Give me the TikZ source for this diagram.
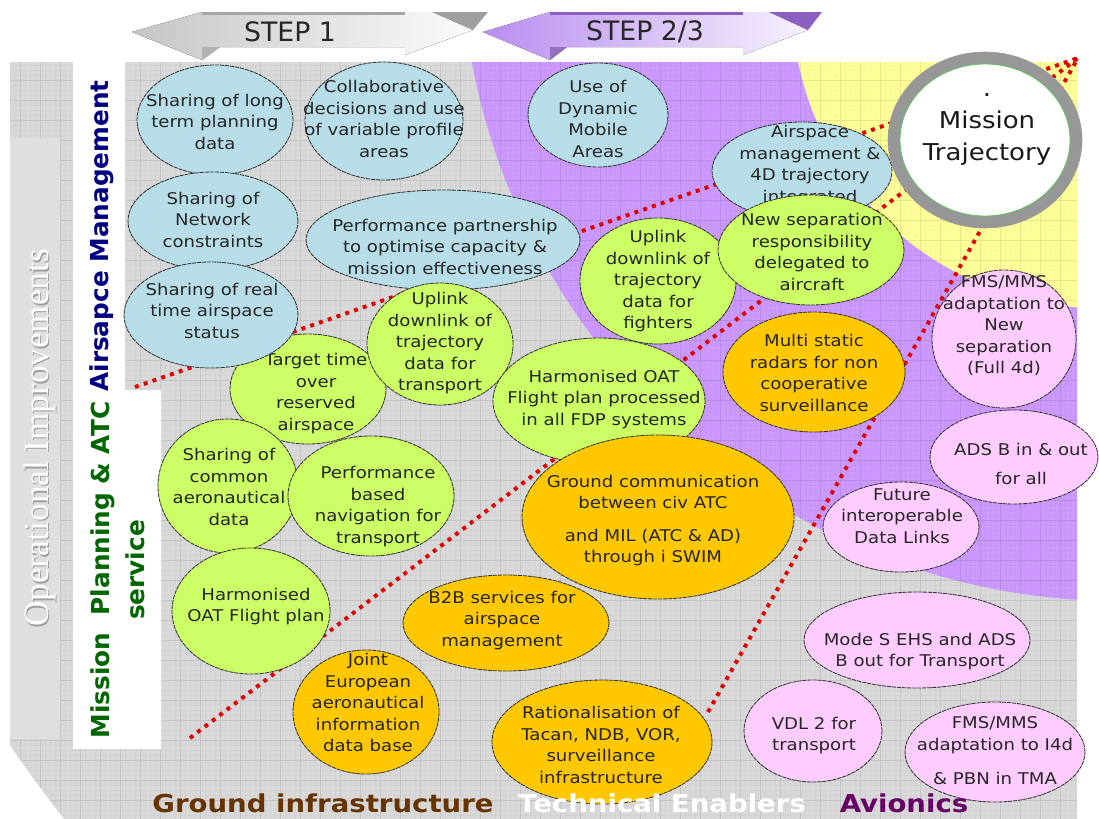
\documentclass[tikz,border=0pt]{standalone}
\usepackage{fontspec}
\usetikzlibrary{shapes.geometric}
\newfontfamily\bubblefont{DejaVu Sans}[FakeStretch=1.12]
\newfontfamily\sidefont{DejaVu Sans}
\newfontfamily\oldserif{Liberation Serif}
\definecolor{bgGrey}{HTML}{D9D9D9}
\definecolor{bgPurple}{HTML}{CC99FF}
\definecolor{bgYellow}{HTML}{FFFF99}
\definecolor{panelGrey}{HTML}{DFDFDF}
\definecolor{bubBlue}{HTML}{B7DEE8}
\definecolor{bubGreen}{HTML}{CCFF66}
\definecolor{bubGold}{HTML}{FFC800}
\definecolor{bubPink}{HTML}{FFCCFF}
\definecolor{dotRed}{HTML}{E00000}
\definecolor{amBlue}{HTML}{000080}
\definecolor{mpGreen}{HTML}{006600}
\definecolor{giBrown}{HTML}{663300}
\definecolor{avPurple}{HTML}{660066}
\definecolor{ringGrey}{HTML}{979797}
\definecolor{stepPurple}{HTML}{B98EF0}
\definecolor{stepPurpleDark}{HTML}{8B5FBF}
\tikzset{
  bubble/.style={ellipse, draw=black!80, line width=.6pt, dash pattern=on 3pt off .6pt,
    inner sep=0pt, outer sep=0pt},
  ewid/.style={minimum width=#1*0.025cm},
  ehgt/.style={minimum height=#1*0.025cm},
  btext/.style={align=center, font=\bubblefont\fontsize{11.5}{15.3}\selectfont, text=black!85,
    inner sep=0pt, yshift=-2.8pt, execute at begin node=\strut, execute at end node=\strut},
  ray/.style={draw=dotRed, line width=2.8pt, dash pattern=on 2.8pt off 3.8pt},
  sidelabel/.style={rotate=90, inner sep=0pt, font=\sidefont\bfseries\fontsize{17.6}{25}\selectfont},
  bottomlabel/.style={anchor=base, inner sep=0pt, font=\bubblefont\bfseries\fontsize{17.5}{20}\selectfont},
  steptext/.style={inner sep=0pt, font=\sidefont\fontsize{19}{22}\selectfont, text=black!85},
}
\begin{document}
\begin{tikzpicture}[x=0.025cm,y=-0.025cm]
\useasboundingbox (0,0) rectangle (1099,818);
\fill[white] (0,0) rectangle (1099,818);

% ---- background bands: grey outer, purple middle, yellow inner ----
\begin{scope}
  \clip (10,62) rectangle (1077,818);
  \clip (1100,0) circle [radius=33cm];
  \fill[bgGrey] (0,0) rectangle (1100,820);
  \fill[bgPurple] (1121,-59) circle [radius=16.5cm];
  \fill[bgYellow] (1100,0) circle [radius=7.7cm];
  \draw[black, opacity=.022, line width=.3pt] (0,820) grid[step=0.125cm] (1100,0);
  \draw[black, opacity=.07, line width=.5pt] (0,820) grid[step=0.5cm] (1100,0);
\end{scope}

% ---- left panels ----
\fill[panelGrey] (10,138) rectangle (60,739);
\fill[white] (73,62) -- (125,62) -- (125,390) -- (161,390) -- (161,749) -- (73,749) -- cycle;

\node[rotate=90, inner sep=0pt, font=\oldserif\fontsize{25}{30}\selectfont, text=gray!75] (oiShadow) at (41.5,439.5) {Operational Improvements};
\node[rotate=90, inner sep=0pt, font=\oldserif\fontsize{25}{30}\selectfont, text=white] (oiLabel) at (40,438) {Operational Improvements};
\node[sidelabel, text=amBlue] (amLabel) at (102,236) {Airsapce Management};
\node[sidelabel, text=mpGreen, align=center] (mpLabel) at (117.5,570) {Mission\ \ Planning \& ATC\\service};

% ---- STEP arrows ----
\fill[left color=gray!45, right color=gray!3] (132,32) -- (202,12) -- (432,12) -- (473,30) -- (405,55) -- (405,47) -- (220,47) -- (202,60) -- cycle;
\fill[gray!70] (202,12) rectangle (405,15);
\fill[gray!75] (432,12) -- (488,12) -- (473,30) -- cycle;
\fill[gray!60] (202,47) -- (220,47) -- (202,60) -- cycle;
\node[steptext] (step1) at (290,32) {STEP 1};
\fill[left color=stepPurple, right color=stepPurple!12] (483,32) -- (550,12) -- (769,12) -- (808,30) -- (743,55) -- (743,47) -- (567,47) -- (550,60) -- cycle;
\fill[stepPurpleDark] (550,12) rectangle (743,15);
\fill[stepPurpleDark] (769,12) -- (822,12) -- (808,30) -- cycle;
\fill[stepPurple!80!black] (550,47) -- (567,47) -- (550,60) -- cycle;
\node[steptext] (step2) at (645,32) {STEP 2/3};

% ---- dotted rays converging on the trajectory ----
\coordinate (apex) at (1078,58);
\coordinate (amStart) at (135,387);
\coordinate (mpStart) at (190,738);
\coordinate (giStart) at (708,712);
\draw[ray] (amStart) -- (apex);
\draw[ray] (mpStart) -- (apex);
\draw[ray] (giStart) -- (apex);

% ---- bubbles ----
\node[bubble, fill=bubBlue, ewid=156, ehgt=110] (lt1) at (215,120) {};
\node[btext] (lt1t) at (215,121) {Sharing of long\\term planning\\data};
\node[bubble, fill=bubBlue, ewid=158, ehgt=118] (cd) at (384,121) {};
\node[btext] (cdt) at (384,118) {Collaborative\\decisions and use\\of variable profile\\areas};
\node[bubble, fill=bubBlue, ewid=140, ehgt=104] (dm) at (598,115) {};
\node[btext] (dmt) at (598,118) {Use of\\Dynamic\\Mobile\\Areas};
\node[bubble, fill=bubBlue, ewid=180, ehgt=98] (am4d) at (802,171) {};
\node[btext] (am4dt) at (810,163) {Airspace\\management \&\\4D trajectory\\integrated};
\node[bubble, fill=bubBlue, ewid=170, ehgt=98] (nc) at (213,221) {};
\node[btext] (nct) at (213,219) {Sharing of\\Network\\constraints};
\node[bubble, fill=bubGreen, ewid=156, ehgt=110] (tt) at (308,389) {};
\node[btext] (ttt) at (316,391) {Target time\\over\\reserved\\airspace};
\node[bubble, fill=bubBlue, ewid=174, ehgt=106] (rt) at (211,315) {};
\node[btext] (rtt) at (212,310) {Sharing of real\\time airspace\\status};
\node[bubble, fill=bubBlue, ewid=274, ehgt=100] (pp) at (443,240) {};
\node[btext] (ppt) at (445,246) {Performance partnership\\to optimise capacity \&\\mission effectiveness};
\node[bubble, fill=bubGreen, ewid=146, ehgt=122] (uTr) at (440,344) {};
\node[btext] (uTrt) at (440,341) {Uplink\\downlink of\\trajectory\\data for\\transport};
\node[bubble, fill=bubGreen, ewid=156, ehgt=126] (uFi) at (658,281) {};
\node[btext] (uFit) at (658,279) {Uplink\\downlink of\\trajectory\\data for\\fighters};
\node[bubble, fill=bubGreen, ewid=186, ehgt=110] (ns) at (811,250) {};
\node[btext] (nst) at (812,251) {New separation\\responsibility\\delegated to\\aircraft};
\node[bubble, fill=bubGreen, ewid=212, ehgt=126] (hfp) at (599,401) {};
\node[btext] (hfpt) at (604,397) {Harmonised OAT\\Flight plan processed\\in all FDP systems};
\node[bubble, fill=bubGold, ewid=182, ehgt=120] (ms) at (814,372) {};
\node[btext] (mst) at (814,372) {Multi static\\radars for non\\cooperative\\surveillance};
\node[bubble, fill=bubGreen, ewid=140, ehgt=134] (sca) at (228,486) {};
\node[btext] (scat) at (229,486) {Sharing of\\common\\aeronautical\\data};
\node[bubble, fill=bubGreen, ewid=166, ehgt=120] (pbn) at (371,496) {};
\node[btext] (pbnt) at (378,504) {Performance\\based\\navigation for\\transport};
\node[bubble, fill=bubGold, ewid=272, ehgt=164] (gc) at (658,517) {};
\node[btext] (gct) at (653,518) {Ground communication\\between civ ATC\\[7.8pt]and MIL (ATC \& AD)\\through i SWIM};
\node[bubble, fill=bubGreen, ewid=158, ehgt=126] (hoat) at (251,611) {};
\node[btext] (hoatt) at (256,604) {Harmonised\\OAT Flight plan};
\node[bubble, fill=bubGold, ewid=206, ehgt=96] (b2b) at (506,623) {};
\node[btext] (b2bt) at (502,618) {B2B services for\\airspace\\management};
\node[bubble, fill=bubGold, ewid=146, ehgt=124] (jeai) at (366,712) {};
\node[btext] (jeait) at (368,702) {Joint\\European\\aeronautical\\information\\data base};
\node[bubble, fill=bubGold, ewid=220, ehgt=124] (rat) at (602,742) {};
\node[btext] (ratt) at (601,744) {Rationalisation of\\Tacan, NDB, VOR,\\surveillance\\infrastructure};
\node[bubble, fill=bubPink, ewid=144, ehgt=138] (fms4) at (1004,339) {};
\node[btext] (fms4t) at (1004,324) {FMS/MMS\\adaptation to\\New\\separation\\(Full 4d)};
\node[bubble, fill=bubPink, ewid=168, ehgt=94] (ads) at (1014,457) {};
\node[btext] (adst) at (1021,463) {ADS B in \& out\\[5.3pt]for all};
\node[bubble, fill=bubPink, ewid=156, ehgt=90] (fdl) at (901,527) {};
\node[btext] (fdlt) at (902,515) {Future\\interoperable\\Data Links};
\node[bubble, fill=bubPink, ewid=226, ehgt=96] (mode) at (917,640) {};
\node[btext] (modet) at (920,649) {Mode S EHS and ADS\\B out for Transport};
\node[bubble, fill=bubPink, ewid=138, ehgt=102] (vdl) at (813,731) {};
\node[btext] (vdlt) at (814,733) {VDL 2 for\\transport};
\node[bubble, fill=bubPink, ewid=180, ehgt=100] (fmsI) at (995,752) {};
\node[btext] (fmsIt) at (995,750) {FMS/MMS\\adaptation to I4d\\[9.2pt]\& PBN in TMA};

% ---- mission trajectory ring ----
\node[ellipse, inner sep=0pt, ewid=194, ehgt=176, fill=ringGrey, draw=gray!80] (ringOuter) at (985,140) {};
\node[ellipse, inner sep=0pt, ewid=170, ehgt=152, fill=white, draw=green!60!black!60, line width=.6pt] (ring) at (985,140) {};
\node[btext, font=\bubblefont\fontsize{16.5}{23}\selectfont, text=black!90] (ringText) at (987,128) {.\\Mission\\Trajectory};

% ---- bottom category labels ----
\node[bottomlabel, text=giBrown] (giLabel) at (323,812) {Ground infrastructure};
\node[bottomlabel, text=white] (teLabel) at (662,812) {Technical Enablers};
\node[bottomlabel, text=avPurple] (avLabel) at (904,812) {Avionics};
\end{tikzpicture}
\end{document}
